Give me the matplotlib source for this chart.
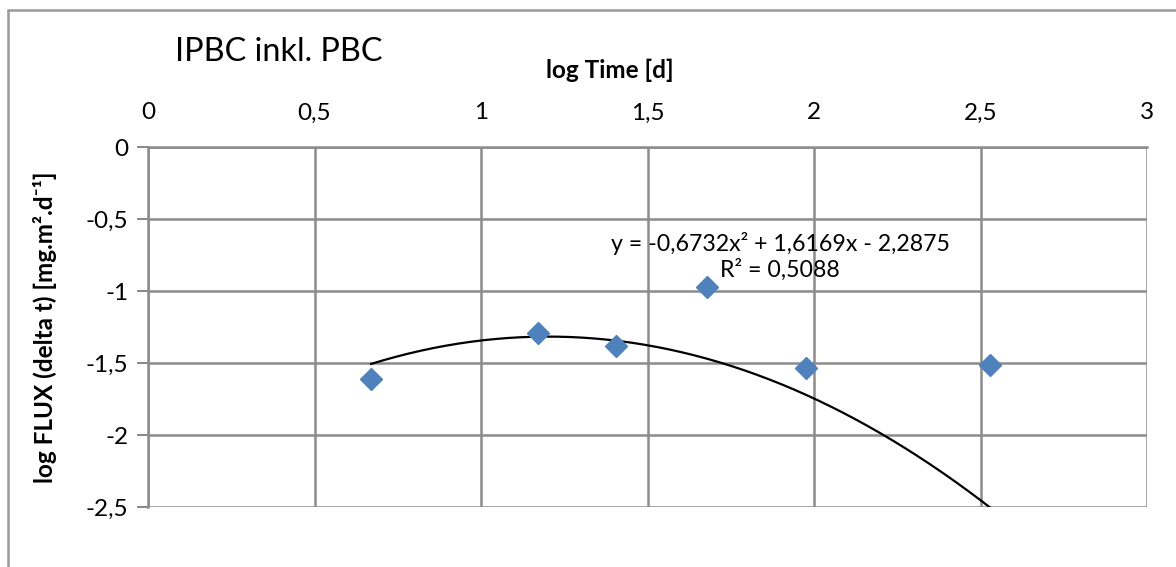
import numpy as np
import matplotlib
matplotlib.use("Agg")
import matplotlib.pyplot as plt
from matplotlib.patches import Rectangle

plt.rcParams["font.family"] = ["Lato", "DejaVu Sans"]

log_time = [0.670, 1.171, 1.405, 1.679, 1.976, 2.528]
log_flux = [-1.611, -1.292, -1.382, -0.972, -1.535, -1.514]
trend_coef = [-0.6732, 1.6169, -2.2875]
x_ticks = [0, 0.5, 1, 1.5, 2, 2.5, 3]
y_ticks = [0, -0.5, -1, -1.5, -2, -2.5]

grey = "#8c8c8c"

fig = plt.figure(figsize=(11.76, 5.67), dpi=100)
fig.patches.append(Rectangle((8 / 1176, -0.1), 1.2, 1 - 10 / 567 + 0.1,
                             transform=fig.transFigure, fill=False,
                             edgecolor="#999999", linewidth=1.8))
ax = fig.add_axes([148 / 1176, 1 - 507 / 567, 999 / 1176, 360 / 567])

ax.set_xlim(0, 3)
ax.set_ylim(-2.5, 0)
ax.set_xticks(x_ticks)
ax.set_yticks(y_ticks)
ax.set_xticklabels([("%g" % v).replace(".", ",") for v in x_ticks])
ax.set_yticklabels([("%g" % v).replace(".", ",") for v in y_ticks])
ax.xaxis.tick_top()
ax.tick_params(axis="x", length=0, pad=17, labelsize=17.5)
ax.tick_params(axis="y", length=8, width=1.5, color=grey, pad=6, labelsize=17.5)
ax.grid(True, color=grey, linewidth=1.8)
ax.set_axisbelow(True)
for side in ["right", "bottom"]:
    ax.spines[side].set_visible(False)
for side in ["left", "top"]:
    ax.spines[side].set_color(grey)
    ax.spines[side].set_linewidth(1.8)

ax.plot(log_time, log_flux, linestyle="none", marker="D", markersize=11,
        color="#4f81bd", zorder=3)

xs = np.linspace(min(log_time), max(log_time), 200)
ax.plot(xs, np.polyval(trend_coef, xs), color="black", linewidth=1.6, zorder=2)

ax.text(1.898, -0.76, "y = -0,6732x² + 1,6169x - 2,2875\nR² = 0,5088",
        ha="center", va="center", fontsize=16.7, linespacing=1.25)

fig.text(610 / 1176, 1 - 70 / 567, "log Time [d]", fontsize=17.5,
         fontweight="bold", ha="center", va="center")
fig.text(45 / 1176, 1 - 327 / 567, "log FLUX (delta t) [mg.m².d⁻¹]",
         fontsize=17.5, fontweight="bold", rotation=90,
         ha="center", va="center")

fig.text(175 / 1176, 1 - 52 / 567, "IPBC inkl. PBC", fontsize=23.3,
         va="center", ha="left")

fig.savefig("out.png", dpi=100)
